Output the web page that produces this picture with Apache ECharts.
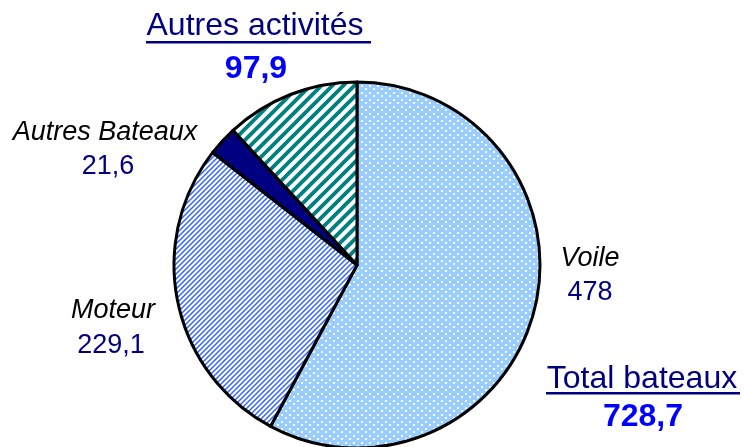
<!DOCTYPE html>
<html>
<head>
<meta charset="utf-8">
<script src="https://cdn.jsdelivr.net/npm/echarts@6/dist/echarts.min.js"></script>
<style>
  html, body { margin: 0; padding: 0; background: #fff; }
  #main { width: 744px; height: 447px; }
</style>
</head>
<body>
<div id="main"></div>
<script>
// slices, clockwise from 12 o'clock
var names = ['Voile', 'Moteur', 'Autres Bateaux', 'Autres activités'];
var values = [478, 229.1, 21.6, 97.9];
var totalLabel = 'Total bateaux';

function fr(v) {
  return String(v).replace('.', ',');
}

// motifs de remplissage
function dots() {
  var c = document.createElement('canvas');
  c.width = 8; c.height = 7;
  var g = c.getContext('2d');
  g.fillStyle = '#99ccff';
  g.fillRect(0, 0, 8, 7);
  g.fillStyle = '#ffffff';
  g.fillRect(1, 1, 2, 2);
  g.fillRect(5, 4, 2, 2);
  return { image: c, repeat: 'repeat' };
}

function stripes(size, color, lw) {
  var c = document.createElement('canvas');
  c.width = size; c.height = size;
  var g = c.getContext('2d');
  g.fillStyle = '#ffffff';
  g.fillRect(0, 0, size, size);
  g.strokeStyle = color;
  g.lineWidth = lw;
  g.beginPath();
  g.moveTo(-size, size * 2); g.lineTo(size * 2, -size);
  g.moveTo(-size, size); g.lineTo(size, -size);
  g.moveTo(0, size * 2); g.lineTo(size * 2, 0);
  g.stroke();
  return { image: c, repeat: 'repeat' };
}

var fills = [dots(), stripes(5, '#3366ff', 1.5), '#000080', stripes(11, '#008080', 3.8)];

var chart = echarts.init(document.getElementById('main'));

var bateaux = values[0] + values[1] + values[2];

var big = 'normal 32px "Liberation Sans", Arial, sans-serif';
var bigBold = 'bold 32px "Liberation Sans", Arial, sans-serif';
var small = 'italic 27px "Liberation Sans", Arial, sans-serif';
var smallNum = 'normal 27px "Liberation Sans", Arial, sans-serif';

function txt(x, y, s, font, color) {
  return {
    type: 'text', x: x, y: y, silent: true,
    style: { text: s, font: font, fill: color, align: 'center', verticalAlign: 'middle' }
  };
}

var option = {
  animation: false,
  series: [{
    type: 'pie',
    center: [357, 265],
    radius: 183,
    startAngle: 90,
    clockwise: true,
    label: { show: false },
    labelLine: { show: false },
    emphasis: { disabled: true },
    itemStyle: { borderColor: '#000', borderWidth: 3 },
    data: names.map(function (n, i) {
      return { name: n, value: values[i], itemStyle: { color: fills[i] } };
    })
  }],
  graphic: [
    txt(255, 26, names[3], big, '#000080'),
    { type: 'rect', silent: true, shape: { x: 146, y: 41, width: 225, height: 2.5 }, style: { fill: '#000080' } },
    txt(256, 69, fr(values[3]), bigBold, '#0000ff'),

    txt(105, 132, names[2], small, '#000'),
    txt(108, 167, fr(values[2]), smallNum, '#000080'),

    txt(113, 310, names[1], small, '#000'),
    txt(111, 346, fr(values[1]), smallNum, '#000080'),

    txt(590, 258, names[0], small, '#000'),
    txt(590, 293, fr(values[0]), smallNum, '#000080'),

    txt(642, 379, totalLabel, big, '#000080'),
    { type: 'rect', silent: true, shape: { x: 546, y: 392, width: 194, height: 2.5 }, style: { fill: '#000080' } },
    txt(643, 417, fr(bateaux.toFixed(1)), bigBold, '#0000ff')
  ]
};

chart.setOption(option);
</script>
</body>
</html>
